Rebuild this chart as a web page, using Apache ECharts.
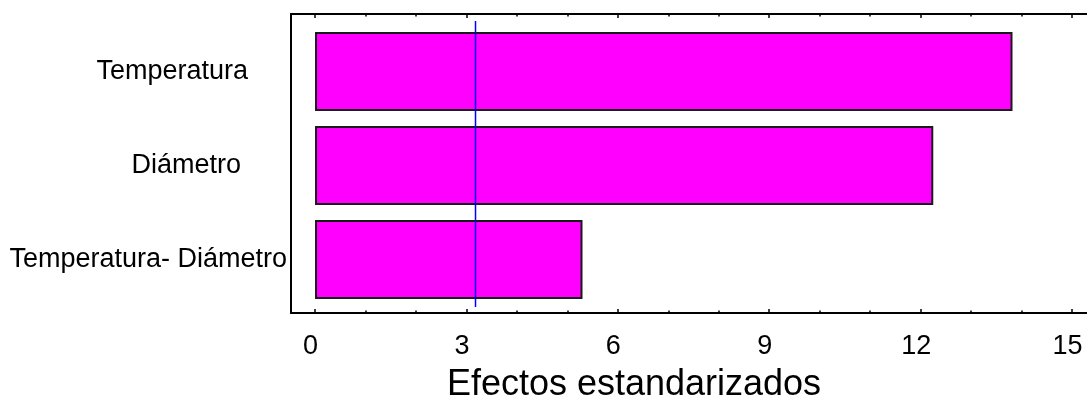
<!DOCTYPE html>
<html>
<head>
<meta charset="utf-8">
<script src="https://cdn.jsdelivr.net/npm/echarts@6/dist/echarts.min.js"></script>
<style>
  html, body { margin: 0; padding: 0; background: #ffffff; }
  #chart { width: 1087px; height: 396px; }
</style>
</head>
<body>
<div id="chart"></div>
<script>
// Standardized Pareto chart of effects
const categories = ['Temperatura', 'Diámetro', 'Temperatura- Diámetro'];
const effects = [13.82, 12.25, 5.30];
const criticalValue = 3.18;
const majorTicks = [0, 3, 6, 9, 12, 15];
const minorTicks = [1, 2, 4, 5, 7, 8, 10, 11, 13, 14];
const axisTitle = 'Efectos estandarizados';

const X_MIN = -0.476;
const X_MAX = 15.296;
const FONT = '"Liberation Sans", Arial, sans-serif';

// vertical extent of the reference line, as a fraction of the frame height
const refLineSpan = [0.02, 0.977];

// right-side padding of each category label, in px
const labelPad = { 'Temperatura': 39, 'Diámetro': 46, 'Temperatura- Diámetro': 0 };

const chart = echarts.init(document.getElementById('chart'), null, { renderer: 'canvas' });

const frameGrid = { left: 291, top: 14, right: 0, height: 299 };
const barGrid = { left: 291, top: 24.5, right: 0, height: 282 };

function tickAxis(position, values, length, withLabels) {
  return {
    type: 'value', gridIndex: 0, position: position,
    min: X_MIN, max: X_MAX,
    axisLine: { show: true, onZero: false, lineStyle: { color: '#000', width: 2 } },
    axisTick: { show: true, inside: true, length: length, customValues: values,
                lineStyle: { color: '#000', width: 1.5 } },
    axisLabel: withLabels ? {
      show: true, customValues: values, margin: 20,
      color: '#000', fontSize: 27, fontFamily: FONT, padding: [0, 9, 0, 0]
    } : { show: false },
    splitLine: { show: false }
  };
}

const bottomMajor = tickAxis('bottom', majorTicks, 4, true);
bottomMajor.name = axisTitle;
bottomMajor.nameLocation = 'middle';
bottomMajor.nameGap = 54;
bottomMajor.nameTextStyle = { color: '#000', fontSize: 36, fontFamily: FONT, padding: [0, 110, 0, 0] };

const option = {
  backgroundColor: '#ffffff',
  animation: false,
  grid: [
    Object.assign({ containLabel: false, outerBoundsMode: 'none' }, frameGrid),
    Object.assign({ containLabel: false, outerBoundsMode: 'none' }, barGrid)
  ],
  xAxis: [
    bottomMajor,
    tickAxis('bottom', minorTicks, 2.5, false),
    tickAxis('top', majorTicks, 4, false),
    tickAxis('top', minorTicks, 2.5, false),
    {
      type: 'value', gridIndex: 1, min: X_MIN, max: X_MAX, show: false
    }
  ],
  yAxis: [
    {
      type: 'value', gridIndex: 0, min: 0, max: 1, position: 'left',
      axisLine: { show: true, onZero: false, lineStyle: { color: '#000', width: 2 } },
      axisTick: { show: false }, axisLabel: { show: false }, splitLine: { show: false }
    },
    {
      type: 'category', gridIndex: 1, inverse: true, data: categories,
      axisLine: { show: false, onZero: false }, axisTick: { show: false }, splitLine: { show: false },
      axisLabel: {
        margin: 4, align: 'right',
        formatter: function (v) { return '{p' + categories.indexOf(v) + '|' + v + '}'; },
        rich: {
          p0: { color: '#000', fontSize: 27, fontFamily: FONT, padding: [0, labelPad[categories[0]], 0, 0] },
          p1: { color: '#000', fontSize: 27, fontFamily: FONT, padding: [0, labelPad[categories[1]], 0, 0] },
          p2: { color: '#000', fontSize: 27, fontFamily: FONT, padding: [0, labelPad[categories[2]], 0, 0] }
        }
      }
    }
  ],
  series: [
    {
      type: 'bar', xAxisIndex: 4, yAxisIndex: 1,
      data: effects, barWidth: 79,
      itemStyle: { color: '#ff00ff', borderColor: '#1a1a1a', borderWidth: 2 }
    },
    {
      // critical t value reference line
      type: 'line', xAxisIndex: 0, yAxisIndex: 0, z: 5,
      data: [[criticalValue, refLineSpan[0]], [criticalValue, refLineSpan[1]]],
      symbol: 'none', silent: true,
      lineStyle: { color: '#0000ff', width: 1.5 }
    }
  ]
};

chart.setOption(option);
</script>
</body>
</html>
